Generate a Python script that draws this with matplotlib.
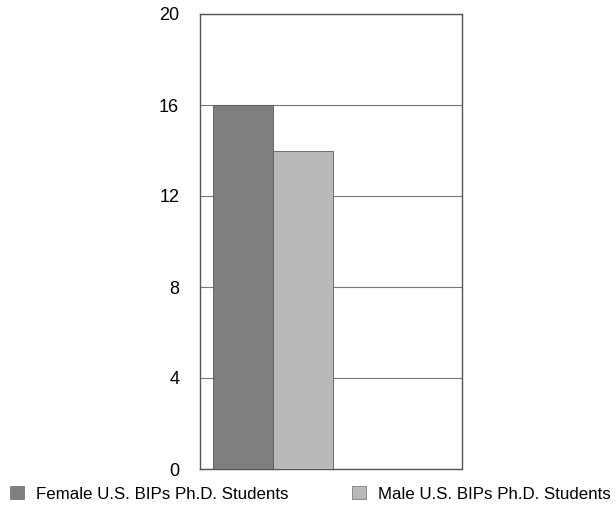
import matplotlib
matplotlib.use("Agg")
import matplotlib.pyplot as plt
from matplotlib.patches import Patch

categories = ["Female U.S. BIPs Ph.D. Students", "Male U.S. BIPs Ph.D. Students"]
values = [16, 14]
colors = ["#7f7f7f", "#b9b9b9"]
yticks = [0, 4, 8, 12, 16, 20]

plt.rcParams['font.family'] = ['Liberation Sans', 'DejaVu Sans']

fig = plt.figure(figsize=(6.16, 5.07), dpi=100)
ax = fig.add_axes([200/616, 1-469/507, 262/616, (469-14)/507])

x = list(range(len(values)))
ax.bar(x, values, width=1.0, color=colors, edgecolor="#5a5a5a", linewidth=0.6, zorder=3)
ax.set_xlim(-0.717, 3.65)
ax.set_ylim(0, 20)
ax.set_yticks(yticks)
ax.set_yticklabels([str(t) for t in yticks], fontsize=13)
ax.set_xticks([])
ax.tick_params(axis='y', length=0, pad=15)
ax.yaxis.grid(True, color="#777777", linewidth=0.8, zorder=1)
for s in ax.spines.values():
    s.set_color("#555555")
    s.set_linewidth(1.0)

handles = [Patch(facecolor=c, edgecolor="#6a6a6a", linewidth=0.5) for c in colors]
fig.legend(handles, categories, loc="center left", bbox_to_anchor=(10/616, 1-494/507),
           ncol=2, frameon=False, fontsize=12.2, handlelength=0.82, handleheight=0.82,
           handletextpad=0.69, columnspacing=3.8, borderaxespad=0, borderpad=0)

fig.savefig("out.png", dpi=100)
